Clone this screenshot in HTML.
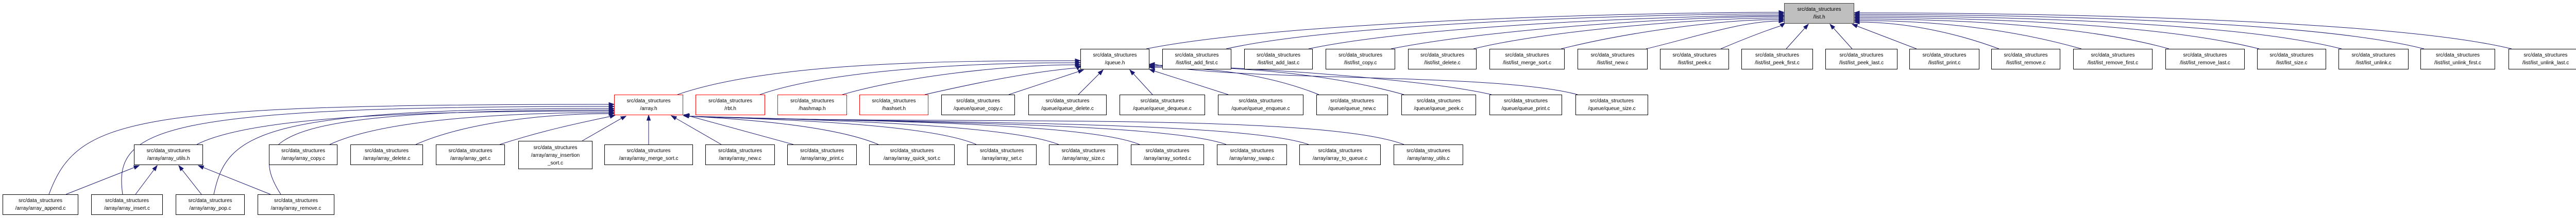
<!DOCTYPE html>
<html><head><meta charset="utf-8"><style>
html,body{margin:0;padding:0;background:#fff;}
#c{position:relative;width:5018px;height:424px;overflow:hidden;background:#fff;}
svg{position:absolute;left:0;top:0;}
.n{position:absolute;box-sizing:border-box;border:1px solid #000;background:#fff;font-family:"Liberation Sans",Arial,sans-serif;font-size:10px;line-height:15px;text-align:center;padding-top:4px;height:40px;white-space:nowrap;color:#000;overflow:hidden;}
.r{border-color:#ff0000;}
.g{background:#bfbfbf;border-color:#404040;}
</style></head><body><div id="c">
<svg width="5018" height="424" viewBox="0 0 5018 424">
<g fill="none" stroke="#191970" stroke-width="1">
<!-- to list.h -->
<path d="M2225,95 C2500,40 3200,24 3453,24"/>
<path d="M2380,95 C2600,45 3200,27 3453,27"/>
<path d="M2540,95 C2750,50 3250,30 3453,30"/>
<path d="M2700,95 C2900,55 3280,32 3453,32"/>
<path d="M2860,95 C3000,60 3300,35 3453,35"/>
<path d="M3030,95 C3150,65 3330,38 3453,38"/>
<path d="M3195,95 C3280,75 3380,41 3453,41"/>
<path d="M3340,95 C3380,78 3420,62 3457,50"/>
<path d="M3467,95 L3503.3,54.5"/>
<path d="M3595,95 L3558.7,54.5"/>
<path d="M3720,95 L3604.3,50.6"/>
<path d="M3880,95 C3800,65 3700,43 3609,43"/>
<path d="M4040,95 C3900,55 3750,40 3609,40"/>
<path d="M4210,95 C4050,50 3800,37 3609,37"/>
<path d="M4385,95 C4200,48 3850,34 3609,34"/>
<path d="M4545,95 C4350,45 3900,31 3609,31"/>
<path d="M4705,95 C4500,42 3950,28 3609,28"/>
<path d="M4875,95 C4650,40 4000,25 3609,25"/>
<!-- to queue.h -->
<path d="M1315,184 C1500,120 1850,118 2087,118"/>
<path d="M1475,184 C1600,140 1850,122 2087,122"/>
<path d="M1635,184 C1750,150 1950,126 2087,126"/>
<path d="M1795,184 C1900,160 2000,140 2089.9,132.1"/>
<path d="M1958,184 L2093.5,139.1"/>
<path d="M2093,184 L2133.9,143.1"/>
<path d="M2237,184 L2199.8,143.4"/>
<path d="M2384,184 L2240.5,138.1"/>
<path d="M2560,184 C2450,140 2330,131 2241,131"/>
<path d="M2725,184 C2550,135 2350,129 2241,129"/>
<path d="M2895,184 C2750,150 2350,127 2241,127"/>
<path d="M3062,184 C2900,140 2400,160 2241,125"/>
<!-- to array.h -->
<path d="M95,378 C150,230 250,203 1182,203"/>
<path d="M238,378 C220,250 300,207 1182,207"/>
<path d="M415,378 C440,260 500,211 1182,211"/>
<path d="M545,378 C470,260 560,214 1182,214"/>
<path d="M382,281 C500,220 900,216 1182,216"/>
<path d="M640,281 C750,230 1000,219 1182,219"/>
<path d="M807,281 C900,240 1050,221 1182,221"/>
<path d="M970,281 C1050,255 1120,240 1184.3,226.5"/>
<path d="M1130,274 L1206.4,230.1"/>
<path d="M1259,281 L1259,234"/>
<path d="M1400,281 L1311.7,230"/>
<path d="M1540,281 L1337.6,225.6"/>
<path d="M1705,281 C1620,245 1450,232 1337,226"/>
<path d="M1895,281 C1800,240 1500,232 1337,226"/>
<path d="M2055,281 C1950,240 1550,232 1337,226"/>
<path d="M2212,281 C2100,235 1600,235 1337,226"/>
<path d="M2380,281 C2250,235 1650,238 1337,226"/>
<path d="M2540,281 C2400,232 1700,240 1337,226"/>
<path d="M2725,281 C2550,215 1750,245 1337,226"/>
<!-- to array_utils.h -->
<path d="M128,378 L260.7,325.7"/>
<path d="M263,378 L299,330"/>
<path d="M391,378 L353.2,329.9"/>
<path d="M525,378 L394.3,325.7"/>
</g>
<g fill="#191970" stroke="#191970" stroke-width="1">
<!-- list.h arrows -->
<polygon points="3463,24 3453,20.5 3453,27.5"/>
<polygon points="3463,27 3453,23.5 3453,30.5"/>
<polygon points="3463,30 3453,26.5 3453,33.5"/>
<polygon points="3463,32 3453,28.5 3453,35.5"/>
<polygon points="3463,35 3453,31.5 3453,38.5"/>
<polygon points="3463,38 3453,34.5 3453,41.5"/>
<polygon points="3463,41 3453,37.5 3453,44.5"/>
<polygon points="3465,44 3459.1,52.8 3454.9,47.2"/>
<polygon points="3510,47 3505.9,56.8 3500.7,52.2"/>
<polygon points="3552,47 3561.3,52.2 3556.1,56.8"/>
<polygon points="3595,47 3605.6,47.3 3603.1,53.9"/>
<polygon points="3599,43 3609,39.5 3609,46.5"/>
<polygon points="3599,40 3609,36.5 3609,43.5"/>
<polygon points="3599,37 3609,33.5 3609,40.5"/>
<polygon points="3599,34 3609,30.5 3609,37.5"/>
<polygon points="3599,31 3609,27.5 3609,34.5"/>
<polygon points="3599,28 3609,24.5 3609,31.5"/>
<polygon points="3599,25 3609,21.5 3609,28.5"/>
<!-- queue.h arrows -->
<polygon points="2097,118 2087,114.5 2087,121.5"/>
<polygon points="2097,122 2087,118.5 2087,125.5"/>
<polygon points="2097,126 2087,122.5 2087,129.5"/>
<polygon points="2099,128 2091.3,135.3 2088.4,128.9"/>
<polygon points="2103,136 2094.6,142.4 2092.4,135.8"/>
<polygon points="2141,136 2136.4,145.6 2131.4,140.6"/>
<polygon points="2193,136 2202.4,141 2197.2,145.8"/>
<polygon points="2231,135 2241.6,134.8 2239.4,141.4"/>
<polygon points="2231,131 2241,127.5 2241,134.5"/>
<polygon points="2231,129 2241,125.5 2241,132.5"/>
<polygon points="2231,127 2241,123.5 2241,130.5"/>
<polygon points="2231,125 2241,121.5 2241,128.5"/>
<!-- array.h arrows -->
<polygon points="1192,203 1182,199.5 1182,206.5"/>
<polygon points="1192,207 1182,203.5 1182,210.5"/>
<polygon points="1192,211 1182,207.5 1182,214.5"/>
<polygon points="1192,214 1182,210.5 1182,217.5"/>
<polygon points="1192,216 1182,212.5 1182,219.5"/>
<polygon points="1192,219 1182,215.5 1182,222.5"/>
<polygon points="1192,221 1182,217.5 1182,224.5"/>
<polygon points="1194,224 1185.2,229.9 1183.4,223.1"/>
<polygon points="1215,226 1208.2,233.1 1204.6,227.1"/>
<polygon points="1259,224 1255.5,234 1262.5,234"/>
<polygon points="1303,225 1313.4,227 1309.9,233"/>
<polygon points="1328,223 1338.5,222.2 1336.7,229"/>
<polygon points="1327,224 1337.3,220.6 1335.9,227.4"/>
<polygon points="1327,225 1337.3,222.6 1335.9,229.4"/>
<!-- array_utils.h arrows -->
<polygon points="270,322 262,329 259.4,322.4"/>
<polygon points="305,322 301.8,332.1 296.2,327.9"/>
<polygon points="347,322 355.9,327.7 350.4,332"/>
<polygon points="385,322 395.6,322.5 393,329"/>
</g>
</svg>

<div class="n g" style="left:3463px;top:6px;width:136px;">src/data_structures<br>/list.h</div>

<div class="n" style="left:2097px;top:95px;width:134px;">src/data_structures<br>/queue.h</div>
<div class="n" style="left:2256px;top:95px;width:134px;">src/data_structures<br>/list/list_add_first.c</div>
<div class="n" style="left:2415px;top:95px;width:133px;">src/data_structures<br>/list/list_add_last.c</div>
<div class="n" style="left:2573px;top:95px;width:135px;">src/data_structures<br>/list/list_copy.c</div>
<div class="n" style="left:2733px;top:95px;width:133px;">src/data_structures<br>/list/list_delete.c</div>
<div class="n" style="left:2891px;top:95px;width:146px;">src/data_structures<br>/list/list_merge_sort.c</div>
<div class="n" style="left:3062px;top:95px;width:136px;">src/data_structures<br>/list/list_new.c</div>
<div class="n" style="left:3222px;top:95px;width:134px;">src/data_structures<br>/list/list_peek.c</div>
<div class="n" style="left:3380px;top:95px;width:139px;">src/data_structures<br>/list/list_peek_first.c</div>
<div class="n" style="left:3543px;top:95px;width:140px;">src/data_structures<br>/list/list_peek_last.c</div>
<div class="n" style="left:3706px;top:95px;width:136px;">src/data_structures<br>/list/list_print.c</div>
<div class="n" style="left:3865px;top:95px;width:134px;">src/data_structures<br>/list/list_remove.c</div>
<div class="n" style="left:4024px;top:95px;width:154px;">src/data_structures<br>/list/list_remove_first.c</div>
<div class="n" style="left:4203px;top:95px;width:154px;">src/data_structures<br>/list/list_remove_last.c</div>
<div class="n" style="left:4381px;top:95px;width:134px;">src/data_structures<br>/list/list_size.c</div>
<div class="n" style="left:4539px;top:95px;width:136px;">src/data_structures<br>/list/list_unlink.c</div>
<div class="n" style="left:4698px;top:95px;width:145px;">src/data_structures<br>/list/list_unlink_first.c</div>
<div class="n" style="left:4869px;top:95px;width:144px;">src/data_structures<br>/list/list_unlink_last.c</div>

<div class="n r" style="left:1192px;top:184px;width:134px;">src/data_structures<br>/array.h</div>
<div class="n r" style="left:1350px;top:184px;width:135px;">src/data_structures<br>/rbt.h</div>
<div class="n r" style="left:1509px;top:184px;width:135px;">src/data_structures<br>/hashmap.h</div>
<div class="n r" style="left:1668px;top:184px;width:134px;">src/data_structures<br>/hashset.h</div>
<div class="n" style="left:1827px;top:184px;width:143px;">src/data_structures<br>/queue/queue_copy.c</div>
<div class="n" style="left:1996px;top:184px;width:152px;">src/data_structures<br>/queue/queue_delete.c</div>
<div class="n" style="left:2173px;top:184px;width:166px;">src/data_structures<br>/queue/queue_dequeue.c</div>
<div class="n" style="left:2364px;top:184px;width:166px;">src/data_structures<br>/queue/queue_enqueue.c</div>
<div class="n" style="left:2555px;top:184px;width:139px;">src/data_structures<br>/queue/queue_new.c</div>
<div class="n" style="left:2720px;top:184px;width:145px;">src/data_structures<br>/queue/queue_peek.c</div>
<div class="n" style="left:2891px;top:184px;width:141px;">src/data_structures<br>/queue/queue_print.c</div>
<div class="n" style="left:3058px;top:184px;width:141px;">src/data_structures<br>/queue/queue_size.c</div>

<div class="n" style="left:260px;top:281px;width:134px;">src/data_structures<br>/array/array_utils.h</div>
<div class="n" style="left:522px;top:281px;width:133px;">src/data_structures<br>/array/array_copy.c</div>
<div class="n" style="left:680px;top:281px;width:141px;">src/data_structures<br>/array/array_delete.c</div>
<div class="n" style="left:846px;top:281px;width:134px;">src/data_structures<br>/array/array_get.c</div>
<div class="n" style="left:1006px;top:274px;width:144px;height:55px;padding-top:5px;">src/data_structures<br>/array/array_insertion<br>_sort.c</div>
<div class="n" style="left:1173px;top:281px;width:172px;">src/data_structures<br>/array/array_merge_sort.c</div>
<div class="n" style="left:1369px;top:281px;width:135px;">src/data_structures<br>/array/array_new.c</div>
<div class="n" style="left:1528px;top:281px;width:135px;">src/data_structures<br>/array/array_print.c</div>
<div class="n" style="left:1687px;top:281px;width:166px;">src/data_structures<br>/array/array_quick_sort.c</div>
<div class="n" style="left:1877px;top:281px;width:135px;">src/data_structures<br>/array/array_set.c</div>
<div class="n" style="left:2036px;top:281px;width:134px;">src/data_structures<br>/array/array_size.c</div>
<div class="n" style="left:2195px;top:281px;width:142px;">src/data_structures<br>/array/array_sorted.c</div>
<div class="n" style="left:2362px;top:281px;width:136px;">src/data_structures<br>/array/array_swap.c</div>
<div class="n" style="left:2522px;top:281px;width:158px;">src/data_structures<br>/array/array_to_queue.c</div>
<div class="n" style="left:2705px;top:281px;width:135px;">src/data_structures<br>/array/array_utils.c</div>

<div class="n" style="left:5px;top:378px;width:147px;">src/data_structures<br>/array/array_append.c</div>
<div class="n" style="left:177px;top:378px;width:139px;">src/data_structures<br>/array/array_insert.c</div>
<div class="n" style="left:341px;top:378px;width:134px;">src/data_structures<br>/array/array_pop.c</div>
<div class="n" style="left:500px;top:378px;width:149px;">src/data_structures<br>/array/array_remove.c</div>
</div></body></html>
